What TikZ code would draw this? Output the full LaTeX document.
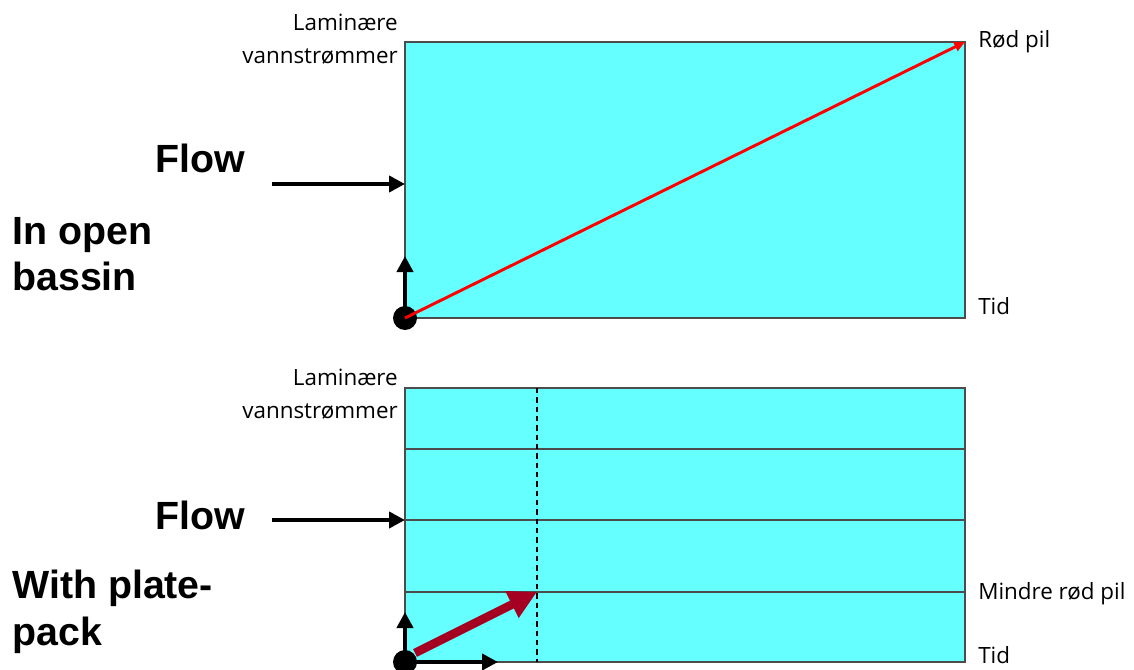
\documentclass[tikz,border=0pt]{standalone}
\usepackage{fontspec}
\setmainfont{Open Sans}
\newfontfamily\boldsans{Liberation Sans}
\usetikzlibrary{arrows.meta}
\definecolor{water}{HTML}{66FFFF}
\definecolor{darkred}{HTML}{A50021}
\begin{document}
\begin{tikzpicture}[x=0.75pt,y=-0.75pt,
  basin/.style={draw=black!70,line width=0.8pt,fill=water},
  plate/.style={draw=black!70,line width=0.8pt},
  blackarrow/.style={line width=3pt,-{Triangle[length=12pt,width=12pt]}},
  smalllabel/.style={font=\fontsize{16.8}{24.5}\selectfont,inner sep=0pt},
  biglabel/.style={font=\boldsans\bfseries\fontsize{29.5}{35}\selectfont,inner sep=0pt},
  dot/.style={circle,fill=black,minimum size=18pt,inner sep=0pt}]
\useasboundingbox (0,0) rectangle (1134,670);
% ---------- top basin ----------
\coordinate (tl) at (405,42);
\coordinate (tr) at (965,42);
\coordinate (bl) at (405,318);
\coordinate (br) at (965,318);
\coordinate (tflow) at (405,184);
\coordinate (tflowstart) at (272,184);
\coordinate (tup) at (405,256);
\draw[basin] (tl) rectangle (br);
\node[dot] (tdot) at (bl) {};
\draw[blackarrow] (tdot.center) -- (tup);
\draw[blackarrow] (tflowstart) -- (tflow);
\draw[red,line width=2.2pt,-{Triangle[length=8pt,width=7pt]}] (tdot.center) -- (tr);
\node[smalllabel,anchor=east,align=right] (tlam) at (398,39) {Laminære\\vannstrømmer};
\node[smalllabel,anchor=west] (trod) at (978,42) {Rød pil};
\node[smalllabel,anchor=west] (ttid) at (978,306) {Tid};
\node[biglabel] (tflowlab) at (200,158) {Flow};
\node[biglabel,anchor=west,align=left] (topen) at (12,254) {In open\\bassin};
% ---------- bottom basin ----------
\coordinate (btl) at (405,388);
\coordinate (btr) at (965,388);
\coordinate (bbl) at (405,662);
\coordinate (bbr) at (965,662);
\coordinate (l1a) at (405,449); \coordinate (l1b) at (965,449);
\coordinate (l2a) at (405,520); \coordinate (l2b) at (965,520);
\coordinate (l3a) at (405,592); \coordinate (l3b) at (965,592);
\coordinate (dtop) at (537,388); \coordinate (dbot) at (537,662);
\coordinate (bflowstart) at (272,520);
\coordinate (bup) at (405,612);
\coordinate (bright) at (498,662);
\coordinate (rstart) at (415,653);
\coordinate (rend) at (537,592);
\draw[basin] (btl) rectangle (bbr);
\draw[plate] (l1a) -- (l1b);
\draw[plate] (l2a) -- (l2b);
\draw[plate] (l3a) -- (l3b);
\draw[black,line width=0.8pt,dash pattern=on 4pt off 3pt] (dtop) -- (dbot);
\node[dot] (bdot) at (bbl) {};
\draw[blackarrow] (bdot.center) -- (bup);
\draw[blackarrow] (bdot.center) -- (bright);
\draw[blackarrow] (bflowstart) -- (l2a);
\draw[darkred,line width=6.5pt,-{Triangle[length=21pt,width=21pt]}] (rstart) -- (rend);
\node[smalllabel,anchor=east,align=right] (blam) at (398,394) {Laminære\\vannstrømmer};
\node[smalllabel,anchor=west] (bmind) at (978,594) {Mindre rød pil};
\node[smalllabel,anchor=west] (btid) at (978,655) {Tid};
\node[biglabel] (bflowlab) at (200,515) {Flow};
\node[biglabel,anchor=west,align=left] (bplate) at (12,612) {With plate-\\pack};
\end{tikzpicture}
\end{document}
